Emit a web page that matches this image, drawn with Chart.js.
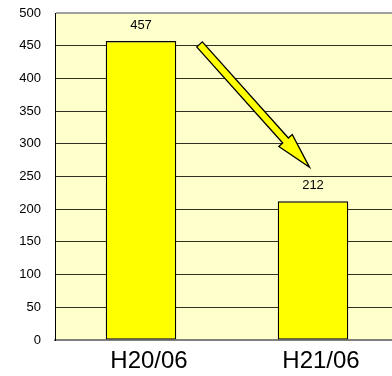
<!DOCTYPE html>
<html>
<head>
<meta charset="utf-8">
<script src="https://cdn.jsdelivr.net/npm/chart.js@4"></script>
<style>
  html, body { margin: 0; padding: 0; background: #fff; overflow: hidden; }
  #wrap { width: 399px; height: 376px; }
</style>
</head>
<body>
<div id="wrap"><canvas id="salesChart"></canvas></div>
<script>
// chart data
const categories = ["H20/06", "H21/06"];
const counts = [457, 212];
const yTicks = [0, 50, 100, 150, 200, 250, 300, 350, 400, 450, 500];
// arrow annotation, in data space: [category index, value]
const arrowFrom = [0.34, 452];
const arrowTo = [0.98, 264];

const plotBackground = {
  id: "plotBackground",
  beforeDraw(chart) {
    const { ctx, chartArea: a } = chart;
    ctx.save();
    ctx.fillStyle = "#FFFFCC";
    ctx.fillRect(a.left, a.top, a.right - a.left, a.bottom - a.top);
    ctx.restore();
  }
};

const valueLabels = {
  id: "valueLabels",
  afterDatasetsDraw(chart) {
    const { ctx } = chart;
    const meta = chart.getDatasetMeta(0);
    ctx.save();
    ctx.font = "13px 'Liberation Sans', Arial, sans-serif";
    ctx.fillStyle = "#000";
    ctx.textAlign = "center";
    ctx.textBaseline = "middle";
    meta.data.forEach((bar, i) => {
      ctx.fillText(String(counts[i]), bar.x, bar.y - 16);
    });
    ctx.restore();
  }
};

const arrowPlugin = {
  id: "arrowPlugin",
  afterDraw(chart) {
    const { ctx, scales } = chart;
    const x1 = scales.x.getPixelForValue(arrowFrom[0]);
    const y1 = scales.y.getPixelForValue(arrowFrom[1]);
    const x2 = scales.x.getPixelForValue(arrowTo[0]);
    const y2 = scales.y.getPixelForValue(arrowTo[1]);
    const len = Math.hypot(x2 - x1, y2 - y1);
    const ux = (x2 - x1) / len, uy = (y2 - y1) / len;
    const px = -uy, py = ux;
    const shaft = 3.8, head = 9, headLen = 36;
    const bx = x2 - ux * headLen, by = y2 - uy * headLen;
    ctx.save();
    ctx.beginPath();
    ctx.moveTo(x1 + px * shaft, y1 + py * shaft);
    ctx.lineTo(bx + px * shaft, by + py * shaft);
    ctx.lineTo(bx + px * head, by + py * head);
    ctx.lineTo(x2, y2);
    ctx.lineTo(bx - px * head, by - py * head);
    ctx.lineTo(bx - px * shaft, by - py * shaft);
    ctx.lineTo(x1 - px * shaft, y1 - py * shaft);
    ctx.closePath();
    ctx.fillStyle = "#FFFF00";
    ctx.fill();
    ctx.lineWidth = 1.3;
    ctx.lineJoin = "miter";
    ctx.strokeStyle = "#000";
    ctx.stroke();
    ctx.restore();
  }
};

new Chart(document.getElementById("salesChart").getContext("2d"), {
  type: "bar",
  data: {
    labels: categories,
    datasets: [{
      data: counts,
      backgroundColor: "#FFFF00",
      borderColor: "#000",
      borderWidth: 1.3,
      borderSkipped: false,
      categoryPercentage: 1,
      barPercentage: 0.41
    }]
  },
  plugins: [plotBackground, valueLabels, arrowPlugin],
  options: {
    responsive: true,
    maintainAspectRatio: false,
    animation: false,
    devicePixelRatio: 1,
    layout: { padding: { top: 13, right: 0, left: 0, bottom: 0 } },
    plugins: { legend: { display: false }, tooltip: { enabled: false } },
    scales: {
      x: {
        afterFit(s) { s.height = 36; s.paddingLeft = 0; s.paddingRight = 0; },
        grid: { display: false, drawTicks: false },
        border: { display: true, color: "#808080", width: 2 },
        ticks: {
          color: "#000",
          padding: 7,
          labelOffset: 8,
          font: { family: "'Liberation Sans', Arial, sans-serif", size: 24 }
        }
      },
      y: {
        min: 0,
        max: 500,
        afterFit(s) { s.width = 55; s.paddingTop = 0; s.paddingBottom = 0; },
        afterBuildTicks(s) { s.ticks = yTicks.map(v => ({ value: v })); },
        grid: {
          drawTicks: false,
          color: ctx => ctx.index === yTicks.length - 1 ? "#A0A0A0" : "#303020",
          lineWidth: ctx => ctx.index === yTicks.length - 1 ? 2 : 1
        },
        border: { display: true, color: "#000", width: 1 },
        ticks: {
          color: "#000",
          padding: 14,
          font: { family: "'Liberation Sans', Arial, sans-serif", size: 13 }
        }
      }
    }
  }
});
</script>
</body>
</html>
